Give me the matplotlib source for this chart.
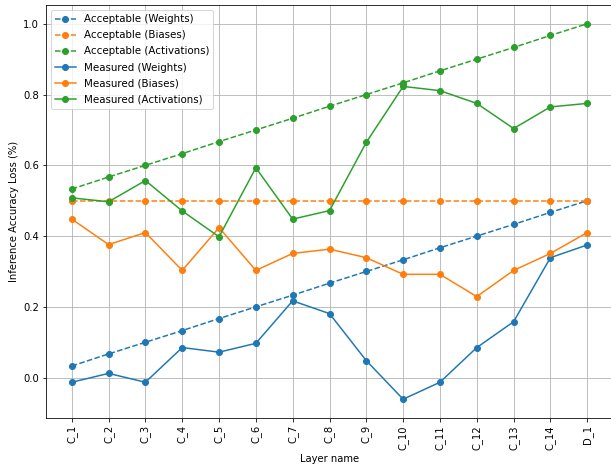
import matplotlib
matplotlib.use("Agg")
import matplotlib.pyplot as plt

layers = ["C_1", "C_2", "C_3", "C_4", "C_5", "C_6", "C_7", "C_8", "C_9", "C_10",
          "C_11", "C_12", "C_13", "C_14", "D_1"]

acc_weights = [0.033, 0.067, 0.100, 0.133, 0.167, 0.200, 0.233, 0.267, 0.300, 0.333,
               0.367, 0.400, 0.433, 0.467, 0.500]
acc_biases = [0.5] * 15
acc_activations = [0.533, 0.567, 0.600, 0.633, 0.667, 0.700, 0.733, 0.767, 0.800, 0.833,
                   0.867, 0.900, 0.933, 0.967, 1.000]

meas_weights = [-0.013, 0.012, -0.013, 0.085, 0.072, 0.097, 0.217, 0.181, 0.048, -0.061,
                -0.013, 0.085, 0.158, 0.339, 0.375]
meas_biases = [0.448, 0.376, 0.410, 0.303, 0.424, 0.303, 0.351, 0.363, 0.339, 0.292,
               0.292, 0.229, 0.303, 0.351, 0.410]
meas_activations = [0.508, 0.497, 0.557, 0.471, 0.398, 0.593, 0.448, 0.472, 0.665, 0.823,
                    0.811, 0.775, 0.704, 0.765, 0.775]

DPI = 72
fig = plt.figure(figsize=(611/DPI, 470/DPI), dpi=DPI)
ax = fig.add_axes([46/611, 52/470, 567/611, 413/470])

ms = 6
ax.plot(layers, acc_weights, "o--", color="C0", ms=ms, label="Acceptable (Weights)")
ax.plot(layers, acc_biases, "o--", color="C1", ms=ms, label="Acceptable (Biases)")
ax.plot(layers, acc_activations, "o--", color="C2", ms=ms, label="Acceptable (Activations)")
ax.plot(layers, meas_weights, "o-", color="C0", ms=ms, label="Measured (Weights)")
ax.plot(layers, meas_biases, "o-", color="C1", ms=ms, label="Measured (Biases)")
ax.plot(layers, meas_activations, "o-", color="C2", ms=ms, label="Measured (Activations)")

ax.grid(True)
ax.set_xlabel("Layer name")
ax.set_ylabel("Inference Accuracy Loss (%)")
ax.tick_params(axis="x", labelrotation=90)
ax.legend(loc="upper left", fontsize=10.2, labelspacing=0.6)

fig.savefig("out.png", dpi=DPI)
